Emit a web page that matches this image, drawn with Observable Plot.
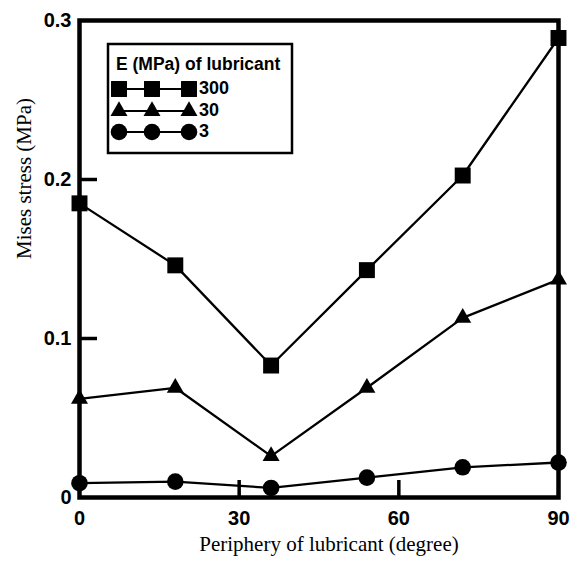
<!DOCTYPE html>
<html>
<head>
<meta charset="utf-8">
<script src="https://cdn.jsdelivr.net/npm/d3@7"></script>
<script src="https://cdn.jsdelivr.net/npm/@observablehq/plot@0.6"></script>
<style>
  html, body { margin: 0; padding: 0; background: white; }
  #chart { width: 578px; height: 561px; }
</style>
</head>
<body>
<div id="chart"></div>
<script>
// ---- data ----
const angles = [0, 18, 36, 54, 72, 90];
const e300 = [0.185, 0.146, 0.083, 0.143, 0.2025, 0.289];
const e30 = [0.062, 0.069, 0.026, 0.069, 0.113, 0.137];
const e3 = [0.009, 0.010, 0.006, 0.0125, 0.019, 0.022];
const moduli = ["300", "30", "3"];
const xTicks = [0, 30, 60, 90];
const yTicks = [0, 0.1, 0.2, 0.3];
const xInnerTicks = [30, 60];
const yInnerTicks = [0.1, 0.2];
const legendTitle = "E (MPa) of lubricant";
const xLabel = "Periphery of lubricant (degree)";
const yLabel = "Mises stress (MPa)";

const seriesValues = [e300, e30, e3];
const symbols = ["square", "triangle", "circle"];
const radii = [9, 6.3, 8.3];
const rows = [];
moduli.forEach((m, i) => {
  angles.forEach((a, j) => rows.push({ E: m, angle: a, stress: seriesValues[i][j] }));
});

const W = 578, H = 561;
const mL = 79, mR = 20, mT = 20, mB = 64;
const plotW = W - mL - mR, plotH = H - mT - mB;
const bold = "Liberation Sans, Arial, sans-serif";
const serif = "Liberation Serif, Times New Roman, serif";

const chart = Plot.plot({
  width: W,
  height: H,
  marginLeft: mL,
  marginRight: mR,
  marginTop: mT,
  marginBottom: mB,
  style: { background: "white", fontFamily: bold },
  x: { domain: [0, 90] },
  y: { domain: [0, 0.3] },
  marks: [
    Plot.frame({ stroke: "black", strokeWidth: 4.5 }),
    Plot.tickX(xInnerTicks, { x: d => d, stroke: "black", strokeWidth: 3.5, insetTop: plotH - 17 }),
    Plot.tickY(yInnerTicks, { y: d => d, stroke: "black", strokeWidth: 3.5, insetRight: plotW - 18 }),
    Plot.axisX({ ticks: xTicks, tickSize: 0, tickPadding: 13, fontSize: 20, fontWeight: "bold", fontFamily: bold, label: null }),
    Plot.axisY({ ticks: yTicks, tickSize: 0, tickPadding: 8, fontSize: 20, fontWeight: "bold", fontFamily: bold,
      tickFormat: d => d === 0 ? "0" : d.toFixed(1), label: null }),
    Plot.text([xLabel], { frameAnchor: "bottom", dy: 53, dx: 10, fontSize: 21, fontFamily: serif, fill: "black" }),
    Plot.text([yLabel], { frameAnchor: "left", rotate: -90, dx: -55, fontSize: 21, fontFamily: serif, fill: "black" }),
    Plot.line(rows, { x: "angle", y: "stress", z: "E", stroke: "black", strokeWidth: 2.3 }),
    ...moduli.map((m, i) => Plot.dot(rows.filter(d => d.E === m), {
      x: "angle", y: "stress", symbol: () => symbols[i], r: radii[i], fill: "black", stroke: "none"
    }))
  ]
});

document.getElementById("chart").appendChild(chart);

// ---- legend (drawn inside the plot SVG) ----
const svg = d3.select(chart);
const lg = svg.append("g").attr("class", "legend").attr("text-anchor", "start");
const bx = 108, by = 44, bw = 184, bh = 109;
lg.append("rect").attr("x", bx).attr("y", by).attr("width", bw).attr("height", bh)
  .attr("fill", "white").attr("stroke", "black").attr("stroke-width", 2.5);
lg.append("text").attr("x", bx + 8).attr("y", by + 21).attr("dominant-baseline", "middle")
  .attr("text-anchor", "start")
  .attr("font-family", bold).attr("font-weight", "bold").attr("font-size", 17.5).text(legendTitle);
const symMap = { square: d3.symbolSquare, triangle: d3.symbolTriangle, circle: d3.symbolCircle };
const rowY = [89, 111, 132];
const symX = [119, 152, 189];
moduli.forEach((m, i) => {
  const y = rowY[i];
  lg.append("line").attr("x1", symX[0]).attr("x2", symX[2]).attr("y1", y).attr("y2", y)
    .attr("stroke", "black").attr("stroke-width", 2);
  const path = d3.symbol(symMap[symbols[i]], Math.PI * radii[i] * radii[i])();
  symX.forEach(x => {
    lg.append("path").attr("d", path).attr("transform", `translate(${x},${y})`).attr("fill", "black");
  });
  lg.append("text").attr("x", 199).attr("y", y).attr("dominant-baseline", "middle")
    .attr("text-anchor", "start")
    .attr("font-family", bold).attr("font-weight", "bold").attr("font-size", 18).text(m);
});
</script>
</body>
</html>
